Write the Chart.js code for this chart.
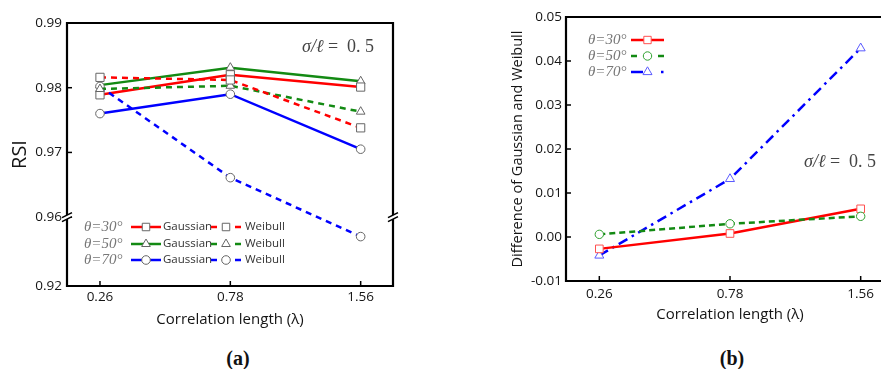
<!DOCTYPE html>
<html><head><meta charset="utf-8">
<script src="https://cdn.jsdelivr.net/npm/chart.js@4.4.0/dist/chart.umd.min.js"></script>
<style>
html,body{margin:0;padding:0;background:#fff;width:881px;height:369px;overflow:hidden;position:relative}
#ca{position:absolute;left:0;top:0}
#cb{position:absolute;left:440px;top:0}
.lab{position:absolute;top:345px;font:bold 20px "Liberation Serif",serif;line-height:26px;transform:translateX(-50%);color:#111}
</style></head><body>
<canvas id="ca" width="440" height="340"></canvas>
<canvas id="cb" width="470" height="340"></canvas>
<div class="lab" style="left:238px">(a)</div>
<div class="lab" style="left:732px">(b)</div>
<script>
// ---- data ----
const categories = ['0.26', '0.78', '1.56'];
const rsiTicks = [0.92, 0.96, 0.97, 0.98, 0.99];
const gauss30 = [0.9789, 0.9820, 0.9801];
const weib30  = [0.9816, 0.9812, 0.9738];
const gauss50 = [0.9804, 0.9831, 0.9810];
const weib50  = [0.9798, 0.9803, 0.9763];
const gauss70 = [0.9760, 0.9790, 0.9705];
const weib70  = [0.9802, 0.9661, 0.9487];
const diffTicks = [-0.01, 0.00, 0.01, 0.02, 0.03, 0.04, 0.05];
const diff30 = [-0.0027, 0.0008, 0.0064];
const diff50 = [0.0006, 0.0030, 0.0047];
const diff70 = [-0.0042, 0.0132, 0.0429];

// broken-axis mapping (below 0.96 the axis is compressed)
const BREAK = 0.96, SQUEEZE = 0.266;
const fwd = v => v >= BREAK ? v : BREAK - (BREAK - v) * SQUEEZE;
const inv = t => t >= BREAK - 1e-12 ? t : BREAK - (BREAK - t) / SQUEEZE;

const RED = '#ff0000', GREEN = '#138a13', BLUE = '#0000ff';
const MK = '#666';
const SANS = '"Open Sans", sans-serif';
const SERIF = '"Liberation Serif", serif';
const TXT = '#151515';

function pts(vals, f) { return vals.map((v, i) => ({x: i, y: f ? f(v) : v})); }

function drawMarker(ctx, style, r, x, y, stroke, bw) {
  ctx.save();
  ctx.setLineDash([]);
  ctx.fillStyle = '#fff';
  ctx.strokeStyle = stroke;
  ctx.lineWidth = bw;
  Chart.helpers.drawPoint(ctx, {pointStyle: style, radius: r, borderWidth: bw, rotation: 0}, x, y);
  ctx.restore();
}
function seg(ctx, x1, x2, y, color, w) {
  ctx.save(); ctx.setLineDash([]); ctx.strokeStyle = color; ctx.lineWidth = w;
  ctx.beginPath(); ctx.moveTo(x1, y); ctx.lineTo(x2, y); ctx.stroke(); ctx.restore();
}
function sigmaText(ctx, x, y) {
  ctx.save();
  ctx.fillStyle = '#444'; ctx.textBaseline = 'middle'; ctx.textAlign = 'left';
  ctx.font = 'italic 18px ' + SERIF;
  const a = 'σ/ℓ';
  ctx.fillText(a, x, y);
  const w = ctx.measureText(a).width;
  ctx.font = '18px ' + SERIF;
  ctx.fillText(' =  0. 5', x + w, y);
  ctx.restore();
}
function thetaText(ctx, t, x, y) {
  ctx.save();
  ctx.fillStyle = '#777'; ctx.textBaseline = 'middle'; ctx.textAlign = 'left';
  ctx.font = 'italic 15px ' + SERIF;
  ctx.fillText(t, x, y);
  ctx.restore();
}

function decoPlugin(extra) {
  return {
    id: 'deco',
    afterDraw(chart) {
      const ctx = chart.ctx, a = chart.chartArea;
      const xs = chart.scales.x, ys = chart.scales.y;
      ctx.save();
      ctx.setLineDash([]);
      ctx.strokeStyle = '#000';
      ctx.lineWidth = 1.5;
      ys.ticks.forEach(t => { const p = ys.getPixelForValue(t.value);
        ctx.beginPath(); ctx.moveTo(a.left, p); ctx.lineTo(a.left + 5, p); ctx.stroke(); });
      xs.ticks.forEach(t => { const p = xs.getPixelForValue(t.value);
        ctx.beginPath(); ctx.moveTo(p, a.bottom); ctx.lineTo(p, a.bottom - 5); ctx.stroke(); });
      ctx.lineWidth = 2.2;
      ctx.beginPath(); ctx.rect(a.left, a.top, a.right - a.left, a.bottom - a.top); ctx.stroke();
      extra(ctx, chart, a, xs, ys);
      ctx.restore();
    }
  };
}

function lineDs(vals, color, dash, style, r, f, mkColor, mkW) {
  return {
    data: pts(vals, f), borderColor: color, borderWidth: 2.5, borderDash: dash,
    pointStyle: style, pointRadius: r, pointHoverRadius: r,
    pointBackgroundColor: '#fff', pointBorderColor: mkColor, pointBorderWidth: mkW,
    tension: 0, fill: false
  };
}

// ---------- chart (a) ----------
new Chart(document.getElementById('ca'), {
  type: 'line',
  data: { datasets: [
    lineDs(weib30, RED, [6, 5], 'rect', 5.8, fwd, MK, 1),
    lineDs(weib50, GREEN, [6, 5], 'triangle', 5, fwd, MK, 1),
    lineDs(weib70, BLUE, [6, 5], 'circle', 4.3, fwd, MK, 1),
    lineDs(gauss30, RED, [], 'rect', 5.8, fwd, MK, 1),
    lineDs(gauss50, GREEN, [], 'triangle', 5, fwd, MK, 1),
    lineDs(gauss70, BLUE, [], 'circle', 4.3, fwd, MK, 1)
  ]},
  options: {
    responsive: false, animation: false, devicePixelRatio: 1,
    layout: { padding: { top: 23, right: 47, left: 0, bottom: 0 } },
    plugins: { legend: { display: false }, tooltip: { enabled: false } },
    scales: {
      x: {
        type: 'linear', min: -0.253, max: 2.248, bounds: 'data',
        afterBuildTicks: s => { s.ticks = categories.map((_, i) => ({ value: i })); },
        ticks: { callback: v => categories[v], font: { family: SANS, size: 13.5 }, color: TXT, padding: 3, autoSkip: false, maxRotation: 0 },
        grid: { display: false, drawTicks: false }, border: { display: false },
        title: { display: true, text: 'Correlation length (λ)', font: { family: SANS, size: 15 }, color: TXT, padding: { top: 0, bottom: 11 } },
        afterFit: s => { s.height = 54; }
      },
      y: {
        type: 'linear', min: fwd(0.92), max: 0.99, bounds: 'data',
        afterBuildTicks: s => { s.ticks = rsiTicks.map(v => ({ value: fwd(v) })); },
        ticks: { callback: v => inv(v).toFixed(2), font: { family: SANS, size: 13.5 }, color: TXT, padding: 5, autoSkip: false },
        grid: { display: false, drawTicks: false }, border: { display: false },
        title: { display: true, text: 'RSI', font: { family: SANS, size: 20 }, color: TXT, padding: { top: 8, bottom: 0 } },
        afterFit: s => { s.width = 67; }
      }
    }
  },
  plugins: [decoPlugin((ctx, chart, a, xs, ys) => {
    // axis break marks
    const yb = ys.getPixelForValue(BREAK);
    [a.left, a.right].forEach(x => {
      ctx.fillStyle = '#fff';
      ctx.beginPath();
      ctx.moveTo(x - 5, yb + 0.5); ctx.lineTo(x + 5, yb - 4.5);
      ctx.lineTo(x + 5, yb - 0.5); ctx.lineTo(x - 5, yb + 4.5); ctx.closePath(); ctx.fill();
      ctx.strokeStyle = '#000'; ctx.lineWidth = 1.6;
      ctx.beginPath(); ctx.moveTo(x - 5, yb + 0.5); ctx.lineTo(x + 5, yb - 4.5); ctx.stroke();
      ctx.beginPath(); ctx.moveTo(x - 5, yb + 4.5); ctx.lineTo(x + 5, yb - 0.5); ctx.stroke();
    });
    sigmaText(ctx, 302, 47);
    // legend
    const rows = [
      { t: 'θ=30°', c: RED, s: 'rect', r: 5.3, y: 227 },
      { t: 'θ=50°', c: GREEN, s: 'triangle', r: 5, y: 244 },
      { t: 'θ=70°', c: BLUE, s: 'circle', r: 4.3, y: 260 }
    ];
    rows.forEach(o => {
      thetaText(ctx, o.t, 84, o.y);
      seg(ctx, 131, 161, o.y, o.c, 2.5);
      drawMarker(ctx, o.s, o.r, 146, o.y, MK, 1);
      ctx.fillStyle = '#333'; ctx.font = '11.5px ' + SANS; ctx.textBaseline = 'middle'; ctx.textAlign = 'left';
      ctx.fillText('Gaussian', 163, o.y);
      seg(ctx, 211, 217, o.y, o.c, 2.5);
      seg(ctx, 235, 241, o.y, o.c, 2.5);
      drawMarker(ctx, o.s, o.r, 226, o.y, MK, 1);
      ctx.fillStyle = '#333'; ctx.font = '11.5px ' + SANS;
      ctx.fillText('Weibull', 245, o.y);
    });
  })]
});

// ---------- chart (b) ----------
const RMK = '#ff5050', GMK = '#2fa02f', BMK = '#5a5aff';
new Chart(document.getElementById('cb'), {
  type: 'line',
  data: { datasets: [
    lineDs(diff50, GREEN, [6, 4], 'circle', 4.2, null, GMK, 1),
    lineDs(diff30, RED, [], 'rect', 5.4, null, RMK, 1),
    lineDs(diff70, BLUE, [10, 5, 2.5, 5], 'triangle', 5.2, null, BMK, 1)
  ]},
  options: {
    responsive: false, animation: false, devicePixelRatio: 1,
    layout: { padding: { top: 17, right: 16, left: 0, bottom: 0 } },
    plugins: { legend: { display: false }, tooltip: { enabled: false } },
    scales: {
      x: {
        type: 'linear', min: -0.255, max: 2.255, bounds: 'data',
        afterBuildTicks: s => { s.ticks = categories.map((_, i) => ({ value: i })); },
        ticks: { callback: v => categories[v], font: { family: SANS, size: 13.5 }, color: TXT, padding: 5, autoSkip: false, maxRotation: 0 },
        grid: { display: false, drawTicks: false }, border: { display: false },
        title: { display: true, text: 'Correlation length (λ)', font: { family: SANS, size: 15 }, color: TXT, padding: { top: 0, bottom: 16 } },
        afterFit: s => { s.height = 59; }
      },
      y: {
        type: 'linear', min: -0.01, max: 0.05, bounds: 'data',
        afterBuildTicks: s => { s.ticks = diffTicks.map(v => ({ value: v })); },
        ticks: { callback: v => v.toFixed(2), font: { family: SANS, size: 13.5 }, color: TXT, padding: 4, autoSkip: false },
        grid: { display: false, drawTicks: false }, border: { display: false },
        title: { display: true, text: 'Difference of Gaussian and Weibull', font: { family: SANS, size: 14.5 }, color: TXT, padding: { top: 69, bottom: 0 } },
        afterFit: s => { s.width = 126; }
      }
    }
  },
  plugins: [decoPlugin((ctx, chart, a) => {
    sigmaText(ctx, 364, 162);
    // legend
    thetaText(ctx, 'θ=30°', 148, 40);
    seg(ctx, 191, 224, 40, RED, 2.5);
    drawMarker(ctx, 'rect', 5.2, 207.5, 40, RMK, 1);
    thetaText(ctx, 'θ=50°', 148, 56);
    seg(ctx, 191, 197, 56, GREEN, 2.5);
    seg(ctx, 218, 224, 56, GREEN, 2.5);
    drawMarker(ctx, 'circle', 4.2, 207.5, 56, GMK, 1);
    thetaText(ctx, 'θ=70°', 148, 72);
    seg(ctx, 191, 203, 72, BLUE, 2.5);
    seg(ctx, 221, 223.5, 72, BLUE, 2.5);
    drawMarker(ctx, 'triangle', 5.2, 207.5, 72, BMK, 1);
  })]
});
</script>
</body></html>
